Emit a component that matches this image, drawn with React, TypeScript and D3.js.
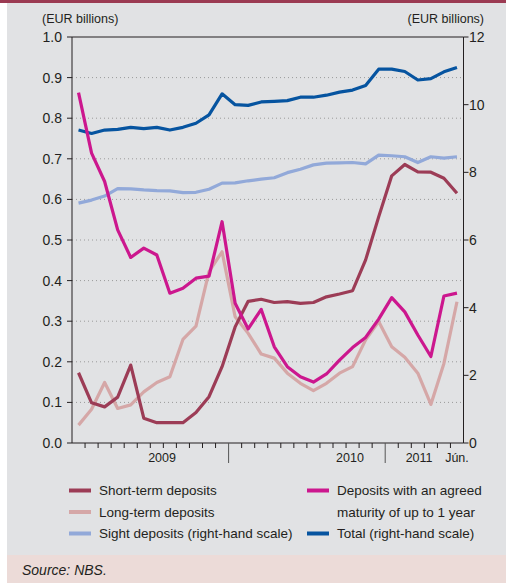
import React from "react";
import * as d3 from "d3";

// monthly values, Jan 2009 .. Jun 2011
const shortTerm = [0.173, 0.099, 0.089, 0.113, 0.192, 0.061, 0.05, 0.05, 0.05, 0.075, 0.114, 0.188, 0.286, 0.349, 0.354, 0.346, 0.348, 0.344, 0.346, 0.36, 0.367, 0.375, 0.451, 0.557, 0.658, 0.686, 0.668, 0.667, 0.652, 0.615];
const longTerm = [0.044, 0.083, 0.149, 0.085, 0.094, 0.126, 0.149, 0.163, 0.255, 0.288, 0.422, 0.471, 0.311, 0.27, 0.219, 0.209, 0.172, 0.147, 0.129, 0.147, 0.172, 0.188, 0.254, 0.299, 0.237, 0.211, 0.172, 0.095, 0.196, 0.348];
const agreed = [0.863, 0.714, 0.644, 0.525, 0.457, 0.48, 0.463, 0.369, 0.381, 0.406, 0.411, 0.545, 0.344, 0.281, 0.329, 0.237, 0.188, 0.163, 0.15, 0.17, 0.204, 0.235, 0.26, 0.305, 0.358, 0.323, 0.266, 0.213, 0.362, 0.369];
const sight = [7.09, 7.18, 7.3, 7.52, 7.51, 7.48, 7.46, 7.45, 7.4, 7.41, 7.5, 7.68, 7.69, 7.75, 7.8, 7.84, 7.99, 8.09, 8.22, 8.27, 8.28, 8.29, 8.25, 8.51, 8.49, 8.46, 8.29, 8.46, 8.42, 8.46];
const total = [9.25, 9.15, 9.25, 9.27, 9.33, 9.29, 9.33, 9.25, 9.33, 9.45, 9.7, 10.32, 10.0, 9.98, 10.08, 10.1, 10.12, 10.22, 10.22, 10.28, 10.37, 10.43, 10.57, 11.05, 11.05, 10.98, 10.73, 10.77, 10.97, 11.1];

const leftTicks = [0, 0.1, 0.2, 0.3, 0.4, 0.5, 0.6, 0.7, 0.8, 0.9, 1.0];
const rightTicks = [0, 2, 4, 6, 8, 10, 12];
const yearBreaks = [12, 24]; // month index where a new year starts
const periodLabels = [
  { label: "2009", at: 6.4 },
  { label: "2010", at: 20.8 },
  { label: "2011", at: 26.1 },
  { label: "Jún.", at: 29 },
];

const legendItems = [
  { name: ["Short-term deposits"], color: "#9c3c56", col: 0, row: 0 },
  { name: ["Long-term deposits"], color: "#d5a7a7", col: 0, row: 1 },
  { name: ["Sight deposits (right-hand scale)"], color: "#92a9d9", col: 0, row: 2 },
  { name: ["Deposits with an agreed", "maturity of up to 1 year"], color: "#cc178e", col: 1, row: 0 },
  { name: ["Total (right-hand scale)"], color: "#0654a0", col: 1, row: 2 },
];

const FONT = "'Liberation Sans', Arial, sans-serif";

export default function App() {
  const width = 506;
  const height = 584;
  const margin = { left: 72, right: 463.5, top: 37, bottom: 443 };
  const n = shortTerm.length;

  const x = d3.scaleLinear().domain([0, n]).range([margin.left, margin.right]);
  const yL = d3.scaleLinear().domain([0, 1]).range([margin.bottom, margin.top]);
  const yR = d3.scaleLinear().domain([0, 12]).range([margin.bottom, margin.top]);

  const lineL = d3
    .line<number>()
    .x((_, i) => x(i + 0.5))
    .y((d) => yL(d));
  const lineR = d3
    .line<number>()
    .x((_, i) => x(i + 0.5))
    .y((d) => yR(d));

  const series = [
    { d: lineR(sight), color: "#92a9d9" },
    { d: lineR(total), color: "#0654a0" },
    { d: lineL(longTerm), color: "#d5a7a7" },
    { d: lineL(shortTerm), color: "#9c3c56" },
    { d: lineL(agreed), color: "#cc178e" },
  ];

  return (
    <svg
      width={width}
      height={height}
      style={{ position: "absolute", left: 0, top: 0, fontFamily: FONT }}
    >
      <rect x={0} y={0} width={width} height={height} fill="#fff" />
      <rect x={7} y={0} width={width - 7} height={555} fill="#e1e2e4" />
      <rect x={0} y={0} width={width} height={3} fill="#9b3a52" />
      <rect x={7} y={555} width={width - 7} height={28} fill="#ecdbd8" />

      <text x={42} y={23} fontSize={12.5} fill="#231f20">(EUR billions)</text>
      <text x={484} y={23} fontSize={12.5} fill="#231f20" textAnchor="end">(EUR billions)</text>

      {/* gridlines */}
      {leftTicks.slice(1, -1).map((t) => (
        <line
          key={t}
          x1={margin.left}
          x2={margin.right}
          y1={yL(t)}
          y2={yL(t)}
          stroke="#9a9a9a"
          strokeWidth={1}
          strokeDasharray="1,3"
        />
      ))}

      {/* frame */}
      <line x1={margin.left} x2={margin.left} y1={margin.top} y2={margin.bottom} stroke="#231f20" />
      <line x1={margin.right} x2={margin.right} y1={margin.top} y2={margin.bottom} stroke="#231f20" />
      <line x1={margin.left} x2={margin.right} y1={margin.top} y2={margin.top} stroke="#231f20" />
      <line x1={margin.left} x2={margin.right} y1={margin.bottom} y2={margin.bottom} stroke="#231f20" />

      {/* left axis */}
      {leftTicks.map((t) => (
        <g key={t}>
          <line x1={margin.left - 5} x2={margin.left} y1={yL(t)} y2={yL(t)} stroke="#231f20" />
          <text x={62} y={yL(t) + 5} fontSize={14} fill="#231f20" textAnchor="end">
            {t.toFixed(1)}
          </text>
        </g>
      ))}

      {/* right axis */}
      {rightTicks.map((t) => (
        <g key={t}>
          <line x1={margin.right} x2={margin.right + 5} y1={yR(t)} y2={yR(t)} stroke="#231f20" />
          <text x={469} y={yR(t) + 5} fontSize={14} fill="#231f20">
            {t}
          </text>
        </g>
      ))}

      {/* x axis ticks */}
      {d3.range(1, n).map((i) =>
        yearBreaks.includes(i) ? (
          <line key={i} x1={x(i)} x2={x(i)} y1={margin.bottom} y2={margin.bottom + 20} stroke="#555" />
        ) : (
          <line key={i} x1={x(i)} x2={x(i)} y1={margin.bottom} y2={margin.bottom + 5} stroke="#231f20" />
        )
      )}
      {periodLabels.map((p) => (
        <text key={p.label} x={x(p.at + 0.5)} y={462} fontSize={12.5} fill="#231f20" textAnchor="middle">
          {p.label}
        </text>
      ))}

      {/* series */}
      {series.map((s, i) => (
        <path key={i} d={s.d ?? ""} fill="none" stroke={s.color} strokeWidth={3.2} strokeLinejoin="round" />
      ))}

      {/* legend */}
      {legendItems.map((it) => {
        const lx = it.col === 0 ? 69 : 307;
        const ly = 495 + it.row * 21.5;
        return (
          <g key={it.name[0]}>
            <line x1={lx} x2={lx + 22} y1={ly - 4.5} y2={ly - 4.5} stroke={it.color} strokeWidth={4} />
            {it.name.map((s, k) => (
              <text key={k} x={lx + 30} y={ly + k * 21.5} fontSize={13.5} fill="#231f20">
                {s}
              </text>
            ))}
          </g>
        );
      })}

      <text x={22} y={575} fontSize={14} fontStyle="italic" fill="#231f20">Source: NBS.</text>
    </svg>
  );
}
